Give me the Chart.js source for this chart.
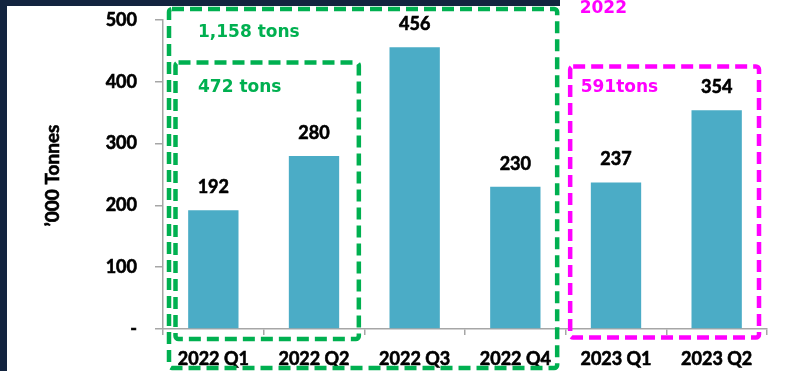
<!DOCTYPE html>
<html>
<head>
<meta charset="utf-8">
<style>
  html, body { margin: 0; padding: 0; background: #fff; }
  #wrap { position: relative; width: 798px; height: 371px; }
</style>
</head>
<body>
<div id="wrap">
  <canvas id="myChart" width="798" height="371"></canvas>
</div>

<script src="https://cdn.jsdelivr.net/npm/chart.js"></script>

<script>
  const quarters = ["2022 Q1", "2022 Q2", "2022 Q3", "2022 Q4", "2023 Q1", "2023 Q2"];
  const volumes = [192, 280, 456, 230, 237, 354];
  const yTicks = [0, 100, 200, 300, 400, 500];
  const yTitle = "’000 Tonnes";

  const barColor = "rgb(75,172,198)";
  const green = "#00b050";
  const magenta = "#ff00ff";
  const axisGray = "#a6a6a6";
  const labelFont = "bold 18px Lato";

  const sum = (from, to) => volumes.slice(from, to).reduce((a, b) => a + b, 0);

  // dark band along the top and left edge, plus the rotated y title
  const frame = {
    id: 'frame',
    beforeDraw(chart) {
      const ctx = chart.ctx;
      ctx.save();
      ctx.fillStyle = "#13243f";
      ctx.fillRect(0, 0, 7, chart.height);
      ctx.fillRect(0, 0, 560, 6);
      ctx.restore();
    },
    afterDraw(chart) {
      const ctx = chart.ctx;
      const a = chart.chartArea;
      ctx.save();
      ctx.translate(53, (a.top + a.bottom) / 2 + 1);
      ctx.rotate(-Math.PI / 2);
      ctx.font = "bold 19px Lato";
      ctx.fillStyle = "#000";
      ctx.strokeStyle = "#000";
      ctx.lineWidth = 0.6;
      ctx.textAlign = "center";
      ctx.textBaseline = "middle";
      ctx.fillText(yTitle, 0, 0);
      ctx.strokeText(yTitle, 0, 0);
      ctx.restore();
    }
  };

  // value above each bar
  const valueLabels = {
    id: 'valueLabels',
    afterDatasetsDraw(chart) {
      const ctx = chart.ctx;
      ctx.save();
      ctx.font = labelFont;
      ctx.fillStyle = "#000";
      ctx.strokeStyle = "#000";
      ctx.lineWidth = 0.6;
      ctx.textAlign = "center";
      ctx.textBaseline = "middle";
      chart.getDatasetMeta(0).data.forEach((bar, i) => {
        ctx.fillText(volumes[i], bar.x, bar.y - 23);
        ctx.strokeText(volumes[i], bar.x, bar.y - 23);
      });
      ctx.restore();
    }
  };

  // dashed group boxes with their totals
  const groups = {
    id: 'groups',
    afterDraw(chart) {
      const ctx = chart.ctx;
      const x = chart.scales.x, y = chart.scales.y;
      const cw = (x.right - x.left) / quarters.length;

      function box(l, t, r, b, color) {
        ctx.save();
        ctx.strokeStyle = color;
        ctx.lineWidth = 4.5;
        ctx.setLineDash([12, 6]);
        ctx.beginPath();
        ctx.roundRect(l, t, r - l, b - t, 3);
        ctx.stroke();
        ctx.restore();
      }
      function text(str, l, cy, color) {
        ctx.save();
        ctx.font = "bold 17px 'DejaVu Sans'";
        ctx.fillStyle = color;
        ctx.textAlign = "left";
        ctx.textBaseline = "middle";
        ctx.fillText(str, l, cy);
        ctx.restore();
      }

      box(x.left + 6, y.top - 11, x.left + 4 * cw - 8.5, y.bottom + 39, green);
      box(x.left + 12.5, y.top + 42.5, x.left + 2 * cw - 5.5, y.bottom + 10, green);
      box(x.left + 4 * cw + 4.5, y.top + 46.5, x.left + 6 * cw - 8, y.bottom + 8.5, magenta);

      text(sum(0, 4).toLocaleString('en-US') + " tons", x.left + 35, y.top + 13, green);
      text(sum(0, 2) + " tons", x.left + 35, y.top + 68, green);
      text(sum(4, 6) + "tons", x.left + 4 * cw + 15, y.top + 68, magenta);
      text("2022", x.left + 4 * cw + 14, y.top - 11, magenta);
    }
  };

  const tickFont = { family: "Lato", weight: "bold", size: 18 };

  const ctx = document.getElementById('myChart');
  new Chart(ctx, {
    type: 'bar',
    data: {
      labels: quarters,
      datasets: [{
        data: volumes,
        backgroundColor: barColor,
        barPercentage: 0.5,
        categoryPercentage: 1
      }]
    },
    options: {
      responsive: false,
      animation: false,
      layout: { autoPadding: false, padding: { left: 7, right: 31, top: 20, bottom: 0 } },
      plugins: {
        legend: { display: false },
        tooltip: { enabled: false }
      },
      scales: {
        x: {
          afterFit(scale) { scale.height = 42; },
          grid: { drawOnChartArea: false, tickLength: 6, color: axisGray, lineWidth: 1.5 },
          border: { color: axisGray, width: 1.5 },
          ticks: {
            color: "#000", font: tickFont, padding: 13, maxRotation: 0,
            textStrokeColor: "#000", textStrokeWidth: 0.6
          }
        },
        y: {
          min: 0,
          max: 500,
          afterFit(scale) {
            scale.width = 156;
            // tick padding would otherwise push the plot top down
            scale.paddingTop = 0;
            scale.paddingBottom = 0;
          },
          afterBuildTicks(scale) { scale.ticks = yTicks.map(v => ({ value: v })); },
          grid: { drawOnChartArea: false, tickLength: 8, color: axisGray, lineWidth: 1.5 },
          border: { color: axisGray, width: 1.5 },
          ticks: {
            color: "#000",
            font: tickFont,
            padding: 18,
            textStrokeColor: "#000",
            textStrokeWidth: 0.6,
            callback: v => v === 0 ? "-" : v
          }
        }
      }
    },
    plugins: [frame, valueLabels, groups]
  });
</script>
</body>
</html>
